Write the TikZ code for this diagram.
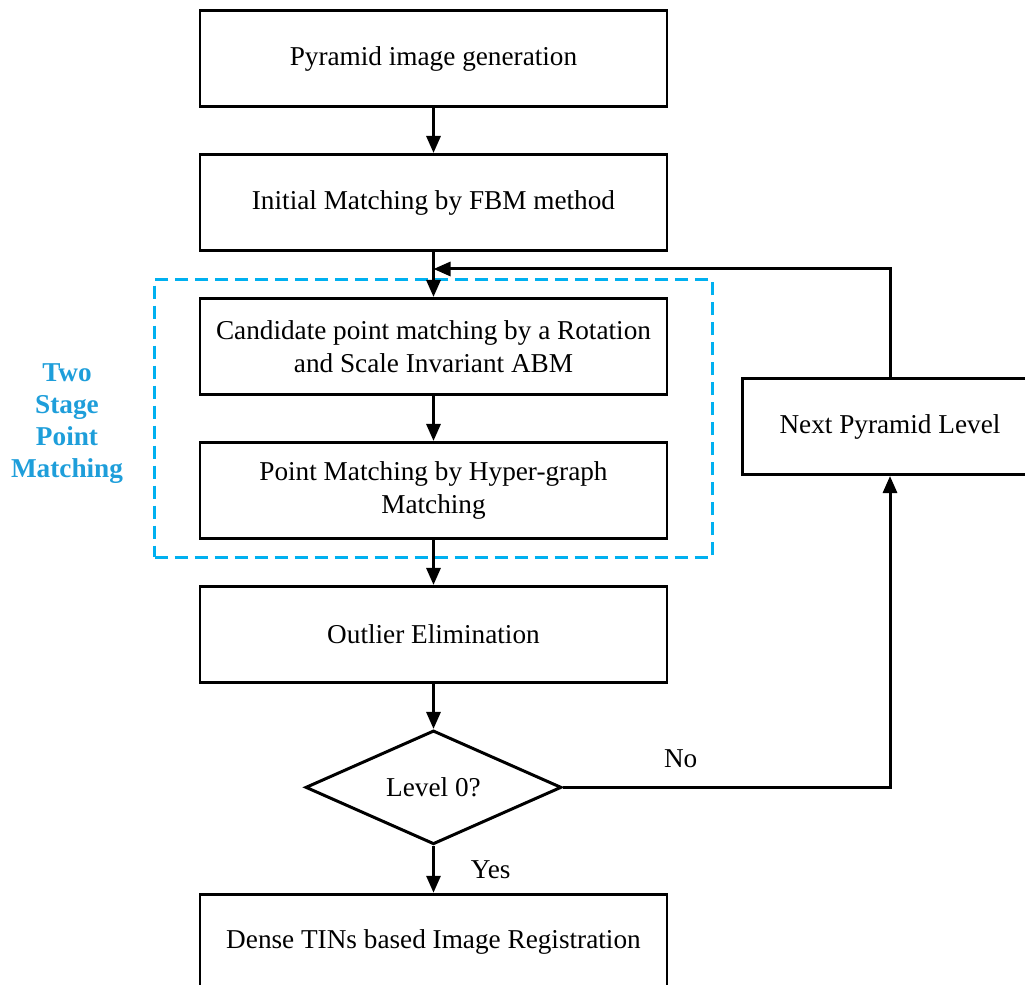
\documentclass[tikz,border=0pt]{standalone}
\usepackage{fontspec}
\setmainfont{Liberation Serif}
\usetikzlibrary{positioning,arrows.meta,fit,shapes.geometric}
\definecolor{grpcyan}{RGB}{0,176,240}
\definecolor{grpblue}{RGB}{30,158,218}

\begin{document}
\begin{tikzpicture}[node distance=9.0mm, line width=1.7pt,
  every node/.style={font=\fontsize{15.5}{18.7}\selectfont,align=center},
  box/.style={draw,minimum width=93.4mm,minimum height=19.2mm,inner sep=1mm},
  dec/.style={draw,diamond,minimum width=51.2mm,minimum height=22.2mm,inner sep=0pt},
  >={Triangle[length=3.4mm,width=2.8mm]}]
\useasboundingbox (-8.67,1.17) rectangle (11.83,-18.51);
\node[box] (gen) {Pyramid image generation};
\node[box,below=of gen] (fbm) {Initial Matching by FBM method};
\node[box,below=of fbm] (abm) {Candidate point matching by a Rotation\\and Scale Invariant ABM};
\node[box,below=of abm] (hgm) {Point Matching by Hyper-graph\\Matching};
\node[box,below=of hgm] (out) {Outlier Elimination};
\node[dec,below=of out] (lvl) {Level 0?};
\node[box,below=9.4mm of lvl] (reg) {Dense TINs based Image Registration};
\node[box,minimum width=59.2mm] (nxt) at (9.13,-7.36) {Next Pyramid Level};
\node[draw=grpcyan,line width=1.3pt,dash pattern=on 2.6mm off 1.4mm,inner xsep=8.8mm,inner ysep=3.5mm,fit=(abm)(hgm)] (grp) {};
\node[left=4.6mm of grp,yshift=-1mm,text=grpblue,font=\fontsize{15.5}{18.1}\selectfont\bfseries] (grplbl) {Two\\Stage\\Point\\Matching};
\coordinate[below=3.4mm of fbm.south] (join);
\draw[->] (gen)--(fbm); \draw[->] (fbm)--(abm); \draw[->] (abm)--(hgm); \draw[->] (hgm)--(out);
\draw[->] (out)--(lvl); \draw[->] (lvl)--(reg) node[midway,right=6mm]{Yes};
\draw[->] (lvl.east) -| (nxt.south) node[pos=.18,above=2.4mm]{No};
\draw[->] (nxt.north) |- (join);
\end{tikzpicture}
\end{document}
